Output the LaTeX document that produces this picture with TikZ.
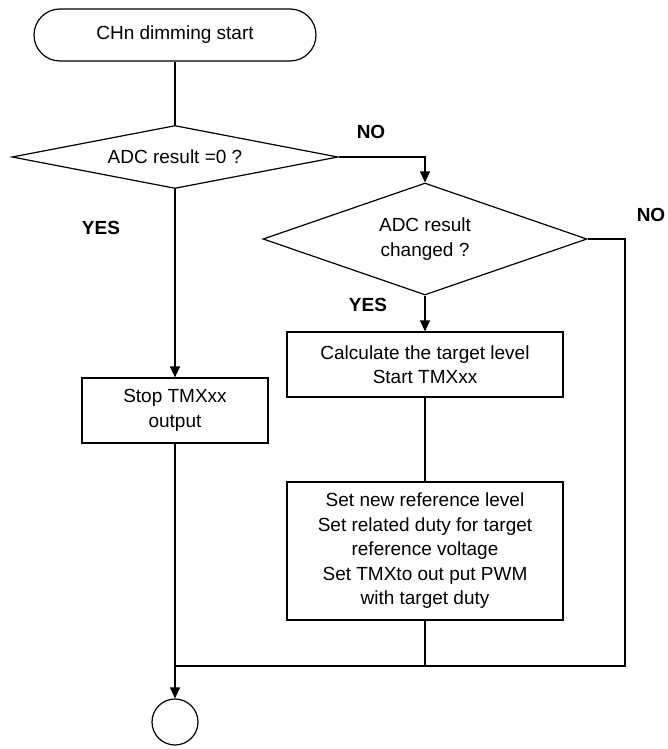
\documentclass[tikz,border=0pt]{standalone}
\usepackage{fontspec}
\setmainfont{Liberation Sans}
\usetikzlibrary{shapes.geometric,arrows.meta}

\begin{document}
\begin{tikzpicture}[x=1pt,y=-1pt,
                    line width=1.2pt,
                    font=\fontsize{19}{24.5}\selectfont,
                    arr/.style={-{Triangle[length=11pt,width=10pt]}},
                    terminal/.style={draw,rectangle,rounded corners=26pt,
                                     minimum width=282pt,minimum height=52pt},
                    decision/.style={draw,diamond,inner sep=0pt,align=center},
                    process/.style={draw,rectangle,align=center,minimum width=#1},
                    answer/.style={font=\fontsize{19}{24}\selectfont\bfseries}]
                    \useasboundingbox (0,0) rectangle (667,749);
                    \node[terminal] (start) at (175,35) {CHn dimming start};
                    \node[decision,aspect=5.17,minimum width=326pt,minimum height=63pt] (adc) at (175,157) {ADC result =0 ?};
                    \node[process=186pt,minimum height=65pt] (stop) at (175,410.5) {Stop TMXxx\\output};
                    \node[decision,aspect=2.9,minimum width=324pt,minimum height=112pt] (chg) at (425,239) {ADC result\\changed ?};
                    \node[process=276pt,minimum height=65pt] (calc) at (425,364.5) {Calculate the target level\\Start TMXxx};
                    \node[process=276pt,minimum height=138pt] (set) at (425,551) {Set new reference level\\Set related duty for target\\reference voltage\\Set TMXto out put PWM\\with target duty};
                    \node[draw,circle,minimum size=46pt,inner sep=0pt] (end) at (175,722) {};
                    \coordinate (join) at (175,666);
                    \coordinate (setjoin) at (425,666);
                    \coordinate (rside) at (625,239);
                    \node[answer] (yes1) at (101,228) {YES};
                    \node[answer] (no1) at (371,132) {NO};
                    \node[answer] (no2) at (651,215) {NO};
                    \node[answer] (yes2) at (368,305) {YES};
                    \draw (start) -- (adc);
                    \draw[arr] (adc) -- (stop);
                    \draw (stop) -- (join);
                    \draw[arr] (join) -- (end);
                    \draw[arr] (adc.east) -| (chg.north);
                    \draw[arr] (chg) -- (calc);
                    \draw (calc) -- (set);
                    \draw (set) -- (setjoin);
                    \draw (chg.east) -- (rside) |- (join);
\end{tikzpicture}
\end{document}
